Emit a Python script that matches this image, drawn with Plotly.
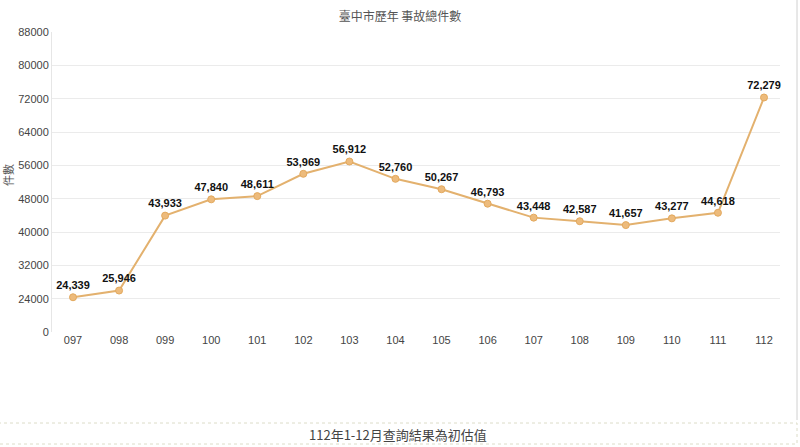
import plotly.graph_objects as go

years = ["097", "098", "099", "100", "101", "102", "103", "104", "105", "106",
         "107", "108", "109", "110", "111", "112"]
counts = [24339, 25946, 43933, 47840, 48611, 53969, 56912, 52760, 50267, 46793,
          43448, 42587, 41657, 43277, 44618, 72279]
tick_vals = [16000, 24000, 32000, 40000, 48000, 56000, 64000, 72000, 80000, 88000]
tick_text = ["0", "24000", "32000", "40000", "48000", "56000", "64000", "72000", "80000", "88000"]
labels = [f"{v:,}" for v in counts]

W, H = 800, 447
L, R, T, B = 52, 20, 32, 115
pw, ph = W - L - R, H - T - B

def px(x):
    return (x - L) / pw

def py(y):
    return (H - B - y) / ph

fig = go.Figure()
fig.add_trace(go.Scatter(
    x=years, y=counts, mode="lines+markers+text",
    line=dict(color="#E3B16E", width=2),
    marker=dict(size=7, color="#EDBB7C", line=dict(color="#E3A95E", width=1)),
    text=labels, textposition="top center",
    textfont=dict(family="Liberation Sans", size=11, color="#111111", weight="bold"),
    cliponaxis=False, hoverinfo="skip",
))

fig.update_layout(
    width=W, height=H,
    margin=dict(l=L, r=R, t=T, b=B),
    paper_bgcolor="white", plot_bgcolor="white",
    showlegend=False,
    title=dict(text="臺中市歷年 事故總件數", x=0.5, xanchor="center", y=1 - 17 / H, yanchor="middle",
               font=dict(family="Noto Sans CJK TC", size=12, color="#555555")),
    xaxis=dict(type="category", range=[-0.456, 15.347], showgrid=False, zeroline=False,
               showline=False, ticks="", tickfont=dict(family="Liberation Sans", size=11, color="#444444")),
    yaxis=dict(range=[16000, 88000], tickvals=tick_vals, ticktext=tick_text,
               showgrid=True, gridcolor="#EBEBEB", gridwidth=1, zeroline=False,
               showline=True, linecolor="#E6E6E6", linewidth=1, ticks="",
               tickfont=dict(family="Liberation Sans", size=11, color="#444444")),
    font=dict(family="Liberation Sans"),
)

fig.add_annotation(text="件數", xref="paper", yref="paper", x=px(8), y=py(175),
                   xanchor="center", yanchor="middle", textangle=-90, showarrow=False,
                   font=dict(family="Noto Sans CJK TC", size=11, color="#555555"))

# right outer border line
fig.add_shape(type="line", xref="paper", yref="paper", x0=px(797), x1=px(797),
              y0=py(0), y1=py(420), line=dict(color="#D0D0D0", width=1))

# bottom note box with dotted border
fig.add_shape(type="rect", xref="paper", yref="paper", x0=px(-2), x1=px(797),
              y0=py(423), y1=py(444), line=dict(color="#DCDCC8", width=1, dash="dot"),
              fillcolor="rgba(0,0,0,0)")
fig.add_annotation(text="112年1-12月查詢結果為初估值", xref="paper", yref="paper",
                   x=px(398), y=py(434), xanchor="center", yanchor="middle", showarrow=False,
                   font=dict(family="Noto Sans CJK TC", size=13, color="#444444"))

fig.write_html("out.html")
